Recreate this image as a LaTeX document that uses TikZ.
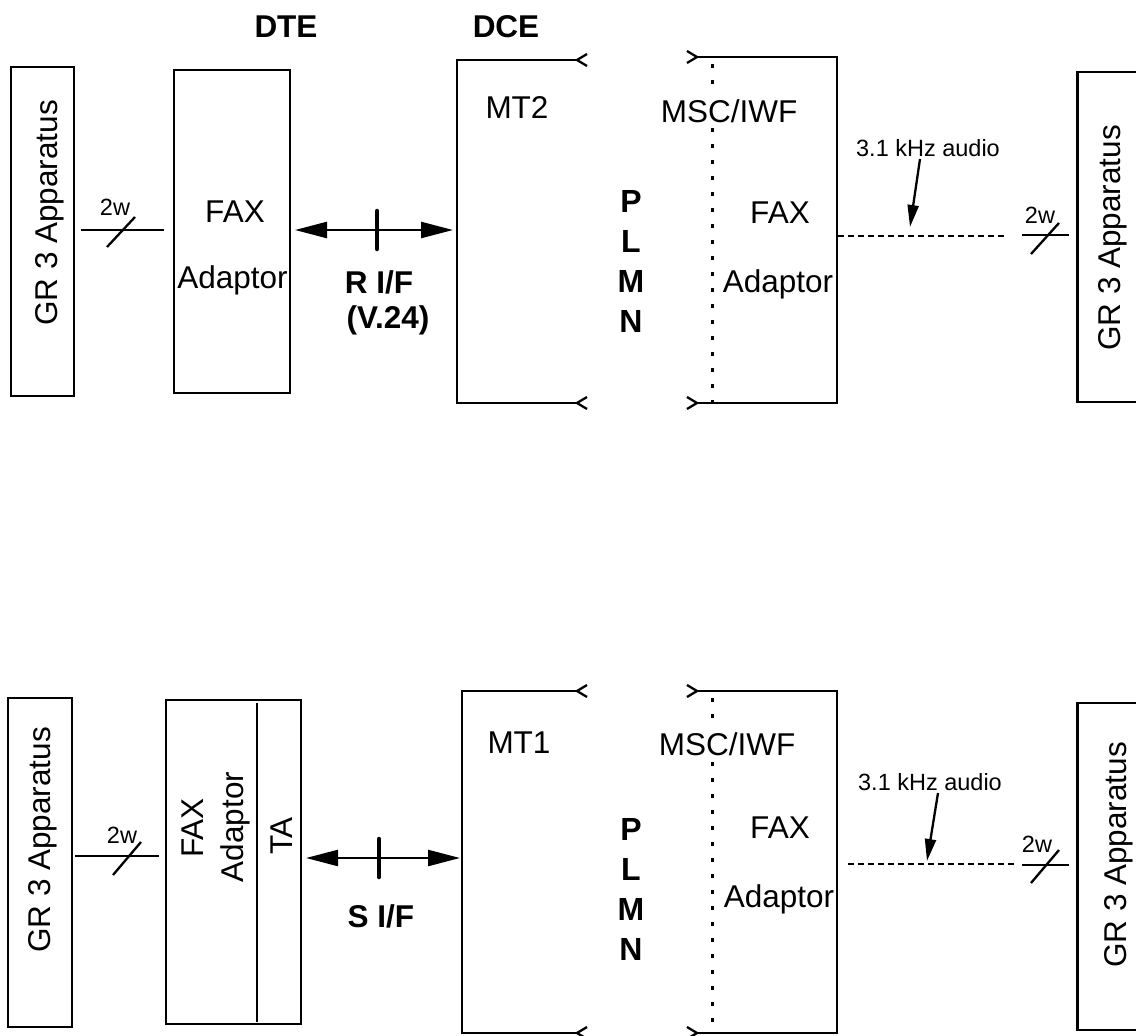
\documentclass[tikz,border=0pt]{standalone}
\usepackage{fontspec}
\setmainfont{Liberation Sans}
\usetikzlibrary{arrows.meta}
\begin{document}
\begin{tikzpicture}[x=1pt,y=-1pt,
  box/.style={draw,line width=2.3pt,inner sep=0pt},
  ln/.style={line width=2.3pt},
  lbl/.style={font=\fontsize{31.5}{36}\selectfont,inner sep=0pt,anchor=base},
  blbl/.style={font=\bfseries\fontsize{31.5}{36}\selectfont,inner sep=0pt,anchor=base},
  small/.style={font=\fontsize{23.5}{26}\selectfont,inner sep=0pt,anchor=base},
  vlbl/.style={lbl,rotate=90},
  plmn/.style={font=\bfseries\fontsize{32}{40}\selectfont,inner sep=0pt,align=center},
  bigarrow/.style={line width=2.4pt,{Triangle[length=32pt,width=16pt]}-{Triangle[length=32pt,width=16pt]}},
  tickmark/.style={line width=4.5pt,line cap=round},
  audio/.style={line width=2.2pt,dash pattern=on 6pt off 4pt},
  msdiv/.style={line width=3pt,dash pattern=on 4pt off 12pt},
  ptr/.style={line width=2.3pt,-{Triangle[length=22pt,width=11pt]}},
]
\useasboundingbox[fill=white] (0,0) rectangle (1136,1036);

% ================= TOP DIAGRAM =================
\node[box,minimum width=63,minimum height=329] (gr3a) at (42.5,231.5) {};
\node[vlbl] (gr3atxt) at (57,213) {GR 3 Apparatus};
\node[box,minimum width=116,minimum height=323] (faxa) at (232,231.5) {};
\node[lbl] (faxatxt1) at (235,222) {FAX};
\node[lbl] (faxatxt2) at (232.5,288) {Adaptor};
\node[blbl] (dte) at (286,37) {DTE};
\node[blbl] (dce) at (506,37) {DCE};
\node[blbl] (rif) at (379,293) {R I/F};
\node[blbl] (v24) at (388,328) {(V.24)};

% MT2 open box
\draw[ln] (577,60) -- (457,60) -- (457,403) -- (577,403);
\draw[ln] (587,54) -- (577,60) -- (587,66);
\draw[ln] (587,397) -- (577,403) -- (587,409);
% MSC/IWF open box
\draw[ln] (697,57) -- (837,57) -- (837,403) -- (697,403);
\draw[ln] (687,51) -- (697,57) -- (687,63);
\draw[ln] (687,397) -- (697,403) -- (687,409);
\draw[msdiv] (712,64) -- (712,402);

\node[lbl] (mt2) at (517,118) {MT2};
\node[lbl,fill=white,inner ysep=6pt] (msca) at (729,122) {MSC/IWF};
\node[lbl] (faxctxt1) at (780,223) {FAX};
\node[lbl] (faxctxt2) at (778,292) {Adaptor};
\node[plmn] (plmna) at (631,261.5) {P\\L\\M\\N};

\node[box,minimum width=61,minimum height=330] (gr3c) at (1108,237) {};
\node[vlbl] (gr3ctxt) at (1120,238) {GR 3 Apparatus};

\node[small] (w2a) at (115,215) {2w};
\node[small] (w2c) at (1040,223) {2w};
\node[small] (audioa) at (928,156) {3.1 kHz audio};

\coordinate (a1) at (81,230);
\coordinate (a2) at (164,230);
\draw[ln] (a1) -- (a2);
\draw[ln] (107,247) -- (135,217);
\coordinate (ra1) at (295,230);
\coordinate (ra2) at (453,230);
\draw[bigarrow] (ra1) -- (ra2);
\draw[tickmark] (377,211) -- (377,249);

\coordinate (da1) at (838,236);
\coordinate (da2) at (1005,236);
\draw[audio] (da1) -- (da2);
\coordinate (c1) at (1022,235);
\coordinate (c2) at (1069,235);
\draw[ln] (c1) -- (c2);
\draw[ln] (1031,254) -- (1059,223);
\coordinate (pa) at (910,227);
\draw[ptr] (920,159) -- (pa);

% ================= BOTTOM DIAGRAM =================
\node[box,minimum width=64,minimum height=329] (gr3b) at (40,862.5) {};
\node[vlbl] (gr3btxt) at (50,840) {GR 3 Apparatus};
\node[box,minimum width=135,minimum height=324] (faxb) at (233.5,862) {};
\draw[ln] (257,703) -- (257,1022);
\node[vlbl] (faxbtxt1) at (203,828) {FAX};
\node[vlbl] (faxbtxt2) at (243,827) {Adaptor};
\node[vlbl] (tatxt) at (292,836) {TA};
\node[blbl] (sif) at (381,927) {S I/F};

% MT1 open box
\draw[ln] (577,691) -- (462,691) -- (462,1033) -- (577,1033);
\draw[ln] (587,685) -- (577,691) -- (587,697);
\draw[ln] (587,1027) -- (577,1033) -- (587,1039);
% MSC/IWF open box
\draw[ln] (697,691) -- (837,691) -- (837,1033) -- (697,1033);
\draw[ln] (687,685) -- (697,691) -- (687,697);
\draw[ln] (687,1027) -- (697,1033) -- (687,1039);
\draw[msdiv] (712,698) -- (712,1032);

\node[lbl] (mt1) at (519,753) {MT1};
\node[lbl,fill=white,inner ysep=6pt] (mscb) at (727,755) {MSC/IWF};
\node[lbl] (faxdtxt1) at (780,838) {FAX};
\node[lbl] (faxdtxt2) at (779,907) {Adaptor};
\node[plmn] (plmnb) at (631,889) {P\\L\\M\\N};

\node[box,minimum width=61,minimum height=327] (gr3d) at (1108,866.5) {};
\node[vlbl] (gr3dtxt) at (1126,855) {GR 3 Apparatus};

\node[small] (w2b) at (122,843) {2w};
\node[small] (w2d) at (1037,852) {2w};
\node[small] (audiob) at (930,790) {3.1 kHz audio};

\coordinate (b1) at (75,856);
\coordinate (b2) at (159,856);
\draw[ln] (b1) -- (b2);
\draw[ln] (113,875) -- (141,842);
\coordinate (sb1) at (306,858);
\coordinate (sb2) at (460,858);
\draw[bigarrow] (sb1) -- (sb2);
\draw[tickmark] (379,839) -- (379,877);

\coordinate (db1) at (848,864);
\coordinate (db2) at (1017,864);
\draw[audio] (db1) -- (db2);
\coordinate (d1) at (1022,865);
\coordinate (d2) at (1069,865);
\draw[ln] (d1) -- (d2);
\draw[ln] (1031,883) -- (1059,850);
\coordinate (pb) at (927,861);
\draw[ptr] (938,793) -- (pb);
\end{tikzpicture}
\end{document}
